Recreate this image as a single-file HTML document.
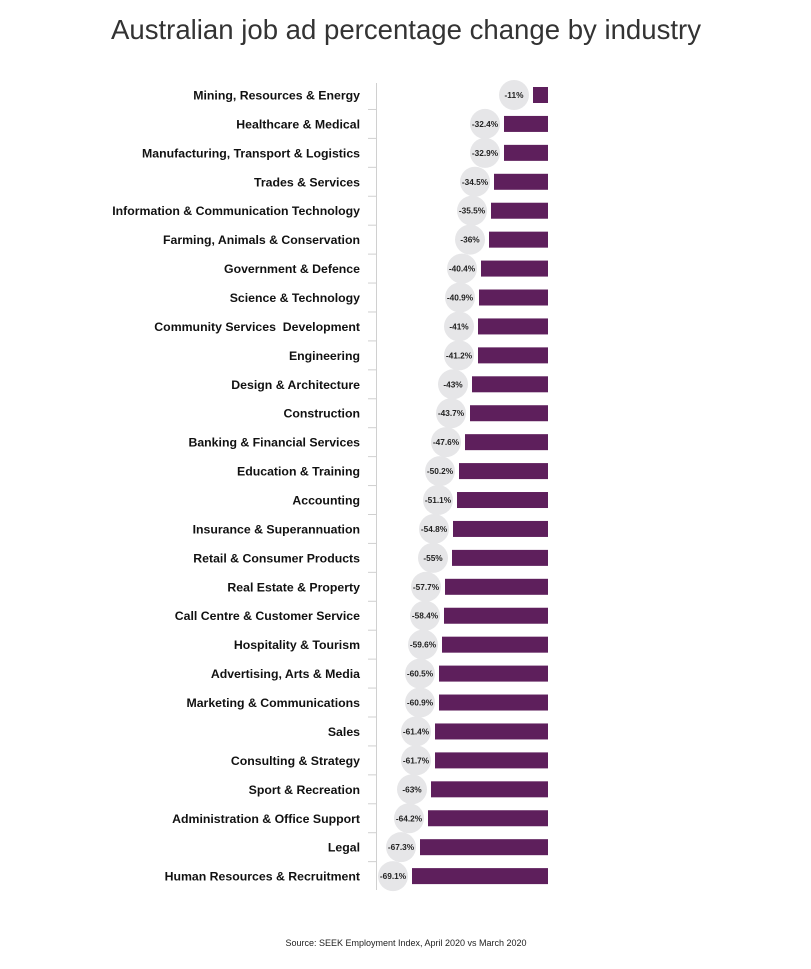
<!DOCTYPE html>
<html><head><meta charset="utf-8"><style>
html,body{margin:0;padding:0;background:#fff;}
svg{display:block;font-family:"Liberation Sans",sans-serif;}
</style></head><body>
<svg width="811" height="969" viewBox="0 0 811 969" xmlns="http://www.w3.org/2000/svg">
<text x="406" y="39" text-anchor="middle" font-size="28" fill="#333" font-weight="300" textLength="590" lengthAdjust="spacingAndGlyphs">Australian job ad percentage change by industry</text>
<line x1="376.5" y1="83" x2="376.5" y2="890" stroke="#d0d0d0" stroke-width="1"/>
<g id="rows"></g>
<text x="406" y="946" text-anchor="middle" font-size="9" fill="#222">Source: SEEK Employment Index, April 2020 vs March 2020</text>
</svg>
<script>
var d=[["Mining, Resources & Energy","-11%",533],["Healthcare & Medical","-32.4%",504],["Manufacturing, Transport & Logistics","-32.9%",504],["Trades & Services","-34.5%",494],["Information & Communication Technology","-35.5%",491],["Farming, Animals & Conservation","-36%",489],["Government & Defence","-40.4%",481],["Science & Technology","-40.9%",479],["Community Services  Development","-41%",478],["Engineering","-41.2%",478],["Design & Architecture","-43%",472],["Construction","-43.7%",470],["Banking & Financial Services","-47.6%",465],["Education & Training","-50.2%",459],["Accounting","-51.1%",457],["Insurance & Superannuation","-54.8%",453],["Retail & Consumer Products","-55%",452],["Real Estate & Property","-57.7%",445],["Call Centre & Customer Service","-58.4%",444],["Hospitality & Tourism","-59.6%",442],["Advertising, Arts & Media","-60.5%",439],["Marketing & Communications","-60.9%",439],["Sales","-61.4%",435],["Consulting & Strategy","-61.7%",435],["Sport & Recreation","-63%",431],["Administration & Office Support","-64.2%",428],["Legal","-67.3%",420],["Human Resources & Recruitment","-69.1%",412]];
var g=document.getElementById('rows'),s='',sp=28.93;
for(var i=0;i<d.length;i++){var y=95+i*sp;
s+='<text x="360" y="'+(y+4.5)+'" text-anchor="end" font-size="12.3" font-weight="bold" fill="#111" xml:space="preserve">'+d[i][0].replace(/&/g,'&amp;')+'</text>';
if(i>0)s+='<line x1="368" x2="376" y1="'+(y-sp/2)+'" y2="'+(y-sp/2)+'" stroke="#d0d0d0"/>';
s+='<rect x="'+d[i][2]+'" y="'+(y-8)+'" width="'+(548-d[i][2])+'" height="16" fill="#5e1f5c"/>';
var cx=d[i][2]-19;
s+='<circle cx="'+cx+'" cy="'+y+'" r="15" fill="#e6e6e8"/>';
s+='<text x="'+cx+'" y="'+(y+3)+'" text-anchor="middle" font-size="8.3" font-weight="bold" fill="#222">'+d[i][1]+'</text>';}
g.innerHTML=s;
</script>
</body></html>
